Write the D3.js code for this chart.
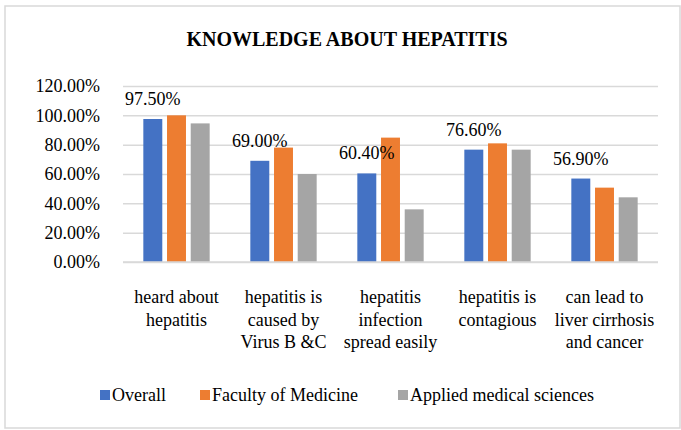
<!DOCTYPE html>
<html>
<head>
<meta charset="utf-8">
<script src="https://cdn.jsdelivr.net/npm/d3@7"></script>
<style>
  html, body { margin: 0; padding: 0; background: #fff; }
  svg { display: block; }
</style>
</head>
<body>
<div class="container"></div>
<script>
var categories = [
    ["heard about", "hepatitis"],
    ["hepatitis is", "caused by", "Virus B &C"],
    ["hepatitis", "infection", "spread easily"],
    ["hepatitis is", "contagious"],
    ["can lead to", "liver cirrhosis", "and cancer"]
];
var seriesNames = ["Overall", "Faculty of Medicine", "Applied medical sciences"];
var overall = [0.975, 0.69, 0.604, 0.766, 0.569];
var medicine = [1.0, 0.78, 0.848, 0.809, 0.507];
var applied = [0.945, 0.60, 0.359, 0.766, 0.441];
var yTicks = [0, 0.2, 0.4, 0.6, 0.8, 1.0, 1.2];
var colors = ["#4472C4", "#ED7D31", "#A5A5A5"];

var FONT = "'Liberation Serif', 'Times New Roman', serif";
var W = 681, H = 430;
var svg = d3.select(".container").append("svg")
    .attr("width", W)
    .attr("height", H)
    .attr("font-family", FONT);

// outer chart border
svg.append("rect")
    .attr("x", 5).attr("y", 6)
    .attr("width", W - 6).attr("height", H - 8)
    .attr("fill", "#fff")
    .attr("stroke", "#d9d9d9")
    .attr("stroke-width", 1.5);

svg.append("text")
    .attr("x", 347).attr("y", 46)
    .attr("text-anchor", "middle")
    .attr("font-size", 20)
    .attr("font-weight", "bold")
    .text("KNOWLEDGE ABOUT HEPATITIS");

var plot = { left: 123, right: 658, top: 86, bottom: 262 };
var catIdx = categories.map((d, i) => i);

var x0 = d3.scaleBand()
    .domain(catIdx)
    .range([plot.left, plot.right])
    .paddingInner(0.38)
    .paddingOuter(0.19);

var x1 = d3.scaleBand()
    .domain(d3.range(seriesNames.length))
    .range([0, x0.bandwidth()])
    .paddingInner(0.2);

var y = d3.scaleLinear()
    .domain([0, 1.2])
    .range([plot.bottom, plot.top]);

// grid lines + y labels
var yAxis = d3.axisLeft(y)
    .tickValues(yTicks)
    .tickSize(-(plot.right - plot.left))
    .tickPadding(23)
    .tickFormat(d => (d * 100).toFixed(2) + "%");

var gy = svg.append("g")
    .attr("transform", `translate(${plot.left},0)`)
    .call(yAxis)
    .attr("font-family", FONT)
    .attr("font-size", 18);
gy.select(".domain").remove();
gy.selectAll(".tick line")
    .attr("stroke", "#d9d9d9")
    .attr("stroke-width", 1.5);
gy.selectAll(".tick text")
    .attr("fill", "#000");

// bars
var series = [overall, medicine, applied];
var groups = svg.append("g")
    .selectAll("g")
    .data(catIdx)
    .enter()
    .append("g")
    .attr("transform", d => `translate(${x0(d)},0)`);

groups.selectAll("rect")
    .data(ci => series.map((s, si) => ({ si: si, v: s[ci] })))
    .enter()
    .append("rect")
    .attr("x", d => x1(d.si))
    .attr("y", d => y(d.v))
    .attr("width", x1.bandwidth())
    .attr("height", d => y(0) - y(d.v))
    .attr("fill", d => colors[d.si]);

// bottom axis line on top
svg.append("line")
    .attr("x1", plot.left).attr("x2", plot.right)
    .attr("y1", y(0)).attr("y2", y(0))
    .attr("stroke", "#d9d9d9")
    .attr("stroke-width", 1.5);

// data labels on Overall bars
svg.append("g")
    .selectAll("text")
    .data(catIdx)
    .enter()
    .append("text")
    .attr("x", d => x0(d) + x1(0) + x1.bandwidth() / 2)
    .attr("y", d => y(overall[d]) - 14)
    .attr("text-anchor", "middle")
    .attr("font-size", 18)
    .text(d => (overall[d] * 100).toFixed(2) + "%");

// category labels
var cat = svg.append("g")
    .selectAll("text")
    .data(catIdx)
    .enter()
    .append("text")
    .attr("x", d => x0(d) + x0.bandwidth() / 2)
    .attr("y", 303)
    .attr("text-anchor", "middle")
    .attr("font-size", 18);

cat.selectAll("tspan")
    .data(d => categories[d])
    .enter()
    .append("tspan")
    .attr("x", function () { return d3.select(this.parentNode).attr("x"); })
    .attr("dy", (d, i) => i === 0 ? 0 : 22.5)
    .text(d => d);

// legend
var legendX = [100, 200, 398];
var legend = svg.append("g")
    .selectAll("g")
    .data(seriesNames)
    .enter()
    .append("g")
    .attr("transform", (d, i) => `translate(${legendX[i]}, 390)`);

legend.append("rect")
    .attr("width", 10)
    .attr("height", 10)
    .attr("fill", (d, i) => colors[i]);

legend.append("text")
    .attr("x", 12)
    .attr("y", 11)
    .attr("font-size", 18)
    .text(d => d);
</script>
</body>
</html>
